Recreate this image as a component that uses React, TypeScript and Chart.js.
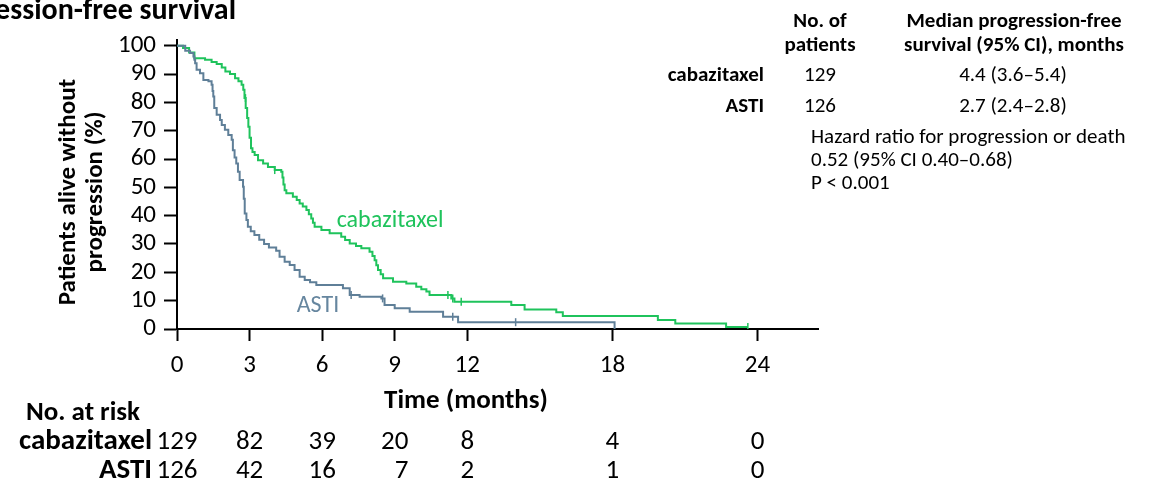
import React, { useEffect, useRef } from 'react';
import { Chart, registerables } from 'chart.js';

Chart.register(...registerables);

// ---------- data ----------
const cabTime = [0, 0.25, 0.5, 0.72, 1.16, 1.43, 1.64, 1.85, 2.0, 2.19, 2.4, 2.54, 2.67, 2.74, 2.79, 2.84, 2.9, 2.95, 3.0, 3.06, 3.12, 3.21, 3.35, 3.56, 3.76, 4.04, 4.31, 4.36, 4.4, 4.45, 4.52, 4.79, 4.95, 5.07, 5.2, 5.35, 5.45, 5.55, 5.62, 5.69, 5.97, 6.31, 6.79, 6.95, 7.14, 7.4, 7.62, 7.96, 8.08, 8.17, 8.24, 8.31, 8.42, 8.52, 8.93, 9.48, 9.89, 10.1, 10.31, 10.44, 11.34, 11.47, 13.82, 14.37, 15.68, 15.95, 19.88, 20.6, 22.7, 23.6];
const cabSurv = [100, 99.2, 97.6, 95.6, 95.0, 94.2, 93.5, 92.3, 90.9, 90.0, 88.5, 87.4, 86.2, 84.4, 81.5, 78.0, 74.5, 71.4, 67.5, 63.8, 62.5, 61.4, 59.6, 58.4, 57.2, 56.1, 55.5, 53.5, 51.0, 49.0, 47.9, 46.7, 45.5, 44.3, 43.2, 42.0, 40.5, 39.0, 37.5, 36.1, 34.9, 33.8, 32.6, 31.4, 30.2, 29.3, 28.5, 27.3, 25.8, 24.3, 22.5, 20.8, 19.3, 17.9, 16.7, 16.1, 14.9, 14.0, 13.2, 12.0, 10.8, 9.6, 8.5, 6.9, 5.9, 4.6, 3.2, 1.9, 0.7, 0.7];

const astiTime = [0, 0.34, 0.54, 0.68, 0.72, 0.75, 0.81, 0.95, 1.09, 1.3, 1.43, 1.47, 1.5, 1.54, 1.64, 1.78, 1.85, 1.98, 2.12, 2.26, 2.31, 2.38, 2.45, 2.52, 2.59, 2.73, 2.76, 2.8, 2.87, 2.93, 3.05, 3.2, 3.4, 3.6, 3.8, 4.1, 4.24, 4.45, 4.66, 4.86, 5.07, 5.28, 5.5, 5.76, 6.86, 7.14, 7.55, 8.45, 8.58, 9.0, 9.62, 11.0, 11.62, 18.09];
const astiSurv = [100, 98.2, 97.4, 96.2, 95.0, 93.8, 91.5, 90.3, 87.9, 87.4, 86.2, 84.0, 82.1, 78.0, 75.6, 73.8, 72.0, 70.3, 68.5, 66.8, 63.1, 60.5, 58.4, 55.5, 52.6, 50.2, 46.0, 40.8, 38.5, 36.1, 34.5, 33.2, 31.5, 30.0, 28.8, 27.6, 25.5, 23.7, 22.6, 20.8, 18.4, 17.3, 16.5, 15.5, 14.4, 12.0, 11.4, 10.8, 8.5, 7.3, 6.1, 4.3, 2.4, 0];

const cabCensor = [2.83, 4.04, 11.2, 11.4, 11.75, 23.6];
const astiCensor = [7.2, 8.5, 11.4, 14.0];

const xTicks = [0, 3, 6, 9, 12, 18, 24];
const yTicks = [0, 10, 20, 30, 40, 50, 60, 70, 80, 90, 100];

const riskTimes = [0, 3, 6, 9, 12, 18, 24];
const cabRisk = ['129', '82', '39', '20', '8', '4', '0'];
const astiRisk = ['126', '42', '16', '7', '2', '1', '0'];

const groups = ['cabazitaxel', 'ASTI'];
const groupN = ['129', '126'];
const groupMedian = ['4.4 (3.6–5.4)', '2.7 (2.4–2.8)'];
const hrLines = ['Hazard ratio for progression or death', '0.52 (95% CI 0.40–0.68)', 'P < 0.001'];

const titleText = 'Progression-free survival';
const yTitle = ['Patients alive without', 'progression (%)'];
const xTitle = 'Time (months)';

// ---------- styles ----------
const FONT = 'Carlito, Lato, "Liberation Sans", sans-serif';
const GREEN = '#1fc35c';
const BLUE = '#5f7f98';
const BLUE_TXT = '#66869f';

function stepAt(times: number[], surv: number[], t: number) {
  let v = surv[0];
  for (let i = 0; i < times.length; i++) if (times[i] <= t) v = surv[i];
  return v;
}

const annotations = {
  id: 'annotations',
  afterDraw(chart: any) {
    const ctx = chart.ctx as CanvasRenderingContext2D;
    const xs = chart.scales.x;
    const ys = chart.scales.y;
    const txt = (s: string, x: number, y: number, size: number, bold: boolean, align: CanvasTextAlign = 'left', color = '#000', baseline: CanvasTextBaseline = 'alphabetic') => {
      ctx.font = `${bold ? 'bold ' : ''}${size}px ${FONT}`;
      ctx.fillStyle = color;
      ctx.textAlign = align;
      ctx.textBaseline = baseline;
      ctx.fillText(s, x, y);
    };
    ctx.save();
    // title (clipped at left like the reference)
    txt(titleText, 236, 19, 30, true, 'right');

    // right-hand table
    txt('No. of', 820, 27, 21, true, 'center');
    txt('patients', 820, 51, 21, true, 'center');
    txt('Median progression-free', 1014, 27, 21, true, 'center');
    txt('survival (95% CI), months', 1014, 51, 21, true, 'center');
    const rowBase = [81, 112];
    groups.forEach((g, i) => {
      txt(g, 764, rowBase[i], 21, true, 'right');
      txt(groupN[i], 804, rowBase[i], 21, false, 'left');
      txt(groupMedian[i], 1013, rowBase[i], 21, false, 'center');
    });
    const hrBase = [143, 166, 189];
    hrLines.forEach((l, i) => txt(l, 811, hrBase[i], 21, false, 'left'));

    // y-axis title
    const yMid = 192;
    [69, 96].forEach((xc, i) => {
      ctx.save();
      ctx.translate(xc, yMid);
      ctx.rotate(-Math.PI / 2);
      txt(yTitle[i], 0, 0, 25, true, 'center', '#000', 'middle');
      ctx.restore();
    });

    // x-axis title
    txt(xTitle, 466, 408, 27, true, 'center');

    // series labels
    txt('cabazitaxel', xs.getPixelForValue(6.6), ys.getPixelForValue(36), 24, false, 'left', GREEN);
    txt('ASTI', xs.getPixelForValue(4.95), ys.getPixelForValue(6), 24, false, 'left', BLUE_TXT);

    // number at risk
    txt('No. at risk', 83, 420, 27, true, 'center');
    txt('cabazitaxel', 152, 449, 29, true, 'right');
    txt('ASTI', 152, 478, 29, true, 'right');
    riskTimes.forEach((t, i) => {
      const x = xs.getPixelForValue(t);
      ctx.font = `27px ${FONT}`;
      const w = ctx.measureText(cabRisk[i]).width;
      const right = x + w / 2;
      txt(cabRisk[i], right, 449, 27, false, 'right');
      txt(astiRisk[i], right, 478, 27, false, 'right');
    });
    ctx.restore();
  },
};

export default function App() {
  const ref = useRef<HTMLCanvasElement | null>(null);
  useEffect(() => {
    if (!ref.current) return;
    const cabData = cabTime.map((t, i) => ({ x: t, y: cabSurv[i] }));
    const astiData = astiTime.map((t, i) => ({ x: t, y: astiSurv[i] }));
    const cabCens = cabCensor.map((t) => ({ x: t, y: stepAt(cabTime, cabSurv, t) }));
    const astiCens = astiCensor.map((t) => ({ x: t, y: stepAt(astiTime, astiSurv, t) }));
    const chart = new Chart(ref.current, {
      type: 'line',
      data: {
        datasets: [
          { label: 'ASTI', data: astiData, borderColor: BLUE, borderWidth: 2, stepped: true, pointRadius: 0, fill: false },
          { label: 'cabazitaxel', data: cabData, borderColor: GREEN, borderWidth: 2, stepped: true, pointRadius: 0, fill: false },
          { label: 'ASTI censored', data: astiCens, showLine: false, pointStyle: 'line', rotation: 90, pointRadius: 4, borderWidth: 1.5, borderColor: BLUE, backgroundColor: BLUE } as any,
          { label: 'cabazitaxel censored', data: cabCens, showLine: false, pointStyle: 'line', rotation: 90, pointRadius: 4, borderWidth: 1.5, borderColor: GREEN, backgroundColor: GREEN } as any,
        ],
      },
      options: {
        responsive: false,
        animation: false,
        devicePixelRatio: 1,
        layout: { padding: { top: 40, right: 340, bottom: 0, left: 0 } },
        plugins: { legend: { display: false }, tooltip: { enabled: false }, title: { display: false } },
        scales: {
          x: {
            type: 'linear',
            min: 0,
            max: 26.5,
            afterBuildTicks: (s: any) => { s.ticks = xTicks.map((v) => ({ value: v })); },
            afterFit: (s: any) => { s.height = 151; },
            ticks: { font: { family: FONT, size: 25 }, color: '#000', padding: 10, autoSkip: false, maxRotation: 0 },
            grid: { display: true, drawOnChartArea: false, drawTicks: true, tickLength: 12, tickWidth: 2, tickColor: '#000' },
            border: { display: true, color: '#000', width: 2 },
          },
          y: {
            type: 'linear',
            min: 0,
            max: 102,
            afterBuildTicks: (s: any) => { s.ticks = yTicks.map((v) => ({ value: v })); },
            afterFit: (s: any) => { s.width = 177; },
            ticks: { font: { family: FONT, size: 25 }, color: '#000', padding: 8, autoSkip: false },
            grid: { display: true, drawOnChartArea: false, drawTicks: true, tickLength: 13, tickWidth: 2, tickColor: '#000' },
            border: { display: true, color: '#000', width: 2 },
          },
        },
      },
      plugins: [annotations],
    });
    return () => chart.destroy();
  }, []);
  return (
    <div style={{ position: 'fixed', left: 0, top: 0, width: 1158, height: 480, background: '#fff' }}>
      <canvas ref={ref} width={1158} height={480} style={{ display: 'block' }} />
    </div>
  );
}
